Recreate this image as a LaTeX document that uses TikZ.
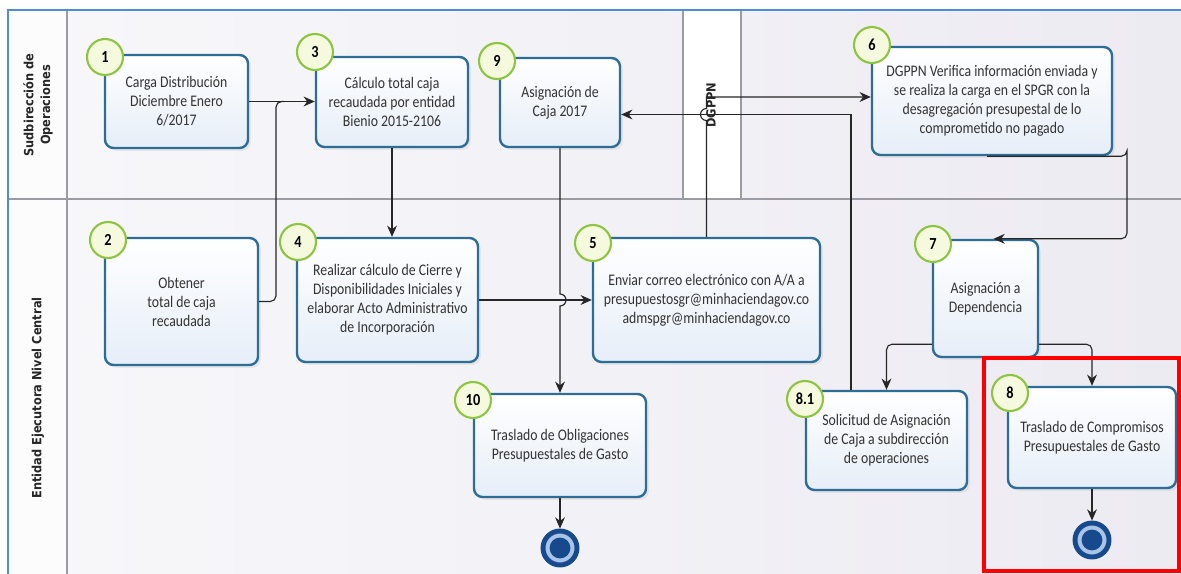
\documentclass[tikz,border=0pt]{standalone}
\usepackage{fontspec}
\setmainfont{Carlito}[FakeStretch=0.85]
\newfontfamily\lanefont{DejaVu Sans}[FakeStretch=0.9]
\usetikzlibrary{arrows.meta, shadows}

\definecolor{taskline}{HTML}{2E6E96}
\definecolor{taskfill}{HTML}{E6EEF8}
\definecolor{numline}{HTML}{8DC440}
\definecolor{numfill}{HTML}{F5FADF}
\definecolor{laneline}{HTML}{9B9BA3}
\definecolor{poolline}{HTML}{4F8BD6}
\definecolor{lanefillA}{HTML}{F7F7FA}
\definecolor{lanefillB}{HTML}{EDEBF2}
\definecolor{endblue}{HTML}{17498D}
\definecolor{endring}{HTML}{A8C4E6}

\tikzset{
  task/.style={draw=taskline, line width=1.7pt, rounded corners=6pt, top color=white, bottom color=taskfill,
    align=center, inner sep=2pt, text=black!80, font=\fontsize{11.5}{13.5}\selectfont,
    drop shadow={opacity=0.12, shadow xshift=2pt, shadow yshift=-2pt}},
  num/.style={circle, draw=numline, line width=1.5pt, fill=numfill, minimum size=0.9cm, inner sep=0pt,
    font=\bfseries\fontsize{12}{12}\selectfont},
  endev/.style={circle, draw=endblue, line width=3.5pt, fill=endring, minimum size=0.85cm, inner sep=0pt,
    path picture={\fill[endblue] (path picture bounding box.center) circle (0.26);}},
  lanelbl/.style={rotate=90, align=center, font=\lanefont\bfseries\fontsize{9}{12}\selectfont, text=black!85},
  link/.style={draw=black!85, line width=0.8pt},
  flow/.style={link, -{Stealth[length=8pt, width=7pt]}},
}

\begin{document}
\begin{tikzpicture}
\useasboundingbox (0,0) rectangle (29.525,-14.35);

% pool y carriles
\shade[left color=lanefillA, right color=lanefillB] (1.675,-0.25) rectangle (29.525,-14.35);
\fill[black!1] (0.2,-0.25) rectangle (1.675,-14.35);
\fill[white] (17.075,-0.25) rectangle (18.525,-4.975);
\draw[laneline, line width=1pt] (1.675,-0.25) -- (1.675,-14.35);
\draw[laneline, line width=1pt] (0.2,-4.975) -- (29.525,-4.975);
\draw[laneline, line width=0.8pt] (17.075,-0.25) -- (17.075,-4.975);
\draw[laneline, line width=0.8pt] (18.525,-0.25) -- (18.525,-4.975);
\draw[poolline, line width=1.5pt] (0.2,-14.35) -- (0.2,-0.25) -- (29.525,-0.25);

\node[lanelbl] (l1) at (0.95,-2.625) {Sudbirección de\\Operaciones};
\node[lanelbl] (l2) at (0.95,-9.95) {Entidad Ejecutora Nivel Central};
\node[lanelbl] (l3) at (17.775,-2.625) {DGPPN};

% tareas
\node[task, minimum width=3.575cm, minimum height=2.325cm] (b1) at (4.4125,-2.5375) {Carga Distribución\\Diciembre Enero\\6/2017};
\node[task, minimum width=3.8cm, minimum height=2.25cm] (b3) at (9.8,-2.55) {Cálculo total caja\\recaudada por entidad\\Bienio 2015-2106};
\node[task, minimum width=3cm, minimum height=2.225cm] (b9) at (14,-2.5625) {Asignación de\\Caja 2017};
\node[task, minimum width=6cm, minimum height=2.7cm] (b6) at (24.8,-2.525) {DGPPN Verifica información enviada y\\se realiza la carga en el SPGR con la\\desagregación presupestal de lo\\comprometido no pagado};
\node[task, minimum width=3.825cm, minimum height=3.175cm] (b2) at (4.5375,-7.5375) {Obtener\\total de caja\\recaudada};
\node[task, minimum width=4.525cm, minimum height=3.1cm] (b4) at (9.6875,-7.5) {Realizar cálculo de Cierre y\\Disponibilidades Iniciales y\\elaborar Acto Administrativo\\de Incorporación};
\node[task, minimum width=5.675cm, minimum height=3.1cm] (b5) at (17.6625,-7.5) {Enviar correo electrónico con A/A a\\presupuestosgr@minhaciendagov.co\\admspgr@minhaciendagov.co};
\node[task, minimum width=2.625cm, minimum height=2.925cm] (b7) at (24.6375,-7.4625) {Asignación a\\Dependencia};
\node[task, minimum width=4.3cm, minimum height=2.575cm] (b10) at (14,-11.1375) {Traslado de Obligaciones\\Presupuestales de Gasto};
\node[task, minimum width=4.025cm, minimum height=2.475cm] (b81) at (22.1625,-11.0125) {Solicitud de Asignación\\de Caja a subdirección\\de operaciones};
\node[task, minimum width=4.2cm, minimum height=2.525cm] (b8) at (27.3,-10.9375) {Traslado de Compromisos\\Presupuestales de Gasto};

\node[endev] (e10) at (14,-13.7) {};
\node[endev] (e8) at (27.3,-13.5) {};

% conectores
\coordinate (j2) at (6.9,-2.5375);
\coordinate (x9) at (b9.south |- b4.east);
\coordinate (k9) at ([yshift=-0.3cm]b9.east);
\coordinate (r6) at (28.175,-3.9);
\draw[flow] (b1.east) -- (b1.east -| b3.west);
\draw[link, rounded corners=4pt] (b2.east) -| (j2) -- ([xshift=6pt]j2);
\draw[flow] (b3.south) -- (b3.south |- b4.north);
\draw[flow] (b4.east) -- (b5.west);
\draw[flow] (b9.south) -- ([yshift=0.15cm]x9) arc (90:-90:0.15) -- (b10.north);
\draw[flow] (b10.south) -- (e10.north);
\draw[flow] ([xshift=-0.8875cm]b81.north) |- (k9);
\draw[flow] (b5.north) -- ([yshift=-0.15cm]b5.north |- k9) arc (-90:-270:0.15) |- ([yshift=0.1cm]b6.west);
\draw[flow, rounded corners=4pt] ([xshift=-0.125cm]b6.south) -| (r6) |- ([xshift=0.2cm]b7.north);
\draw[flow, rounded corners=4pt] ([yshift=0.35cm]b7.south west) -| (b81.north);
\draw[flow, rounded corners=4pt] ([yshift=0.35cm]b7.south east) -| (b8.north);
\draw[flow] (b8.south) -- (e8.north);

% numeros
\node[num] (n1) at (2.625,-1.425) {1};
\node[num] (n3) at (7.875,-1.3) {3};
\node[num] (n9) at (12.425,-1.525) {9};
\node[num] (n6) at (21.8,-1.125) {6};
\node[num] (n2) at (2.7,-6) {2};
\node[num] (n4) at (7.45,-6.05) {4};
\node[num] (n5) at (14.825,-6.075) {5};
\node[num] (n7) at (23.325,-6.1) {7};
\node[num] (n10) at (11.825,-10) {10};
\node[num] (n81) at (20.125,-9.975) {8.1};
\node[num] (n8) at (25.25,-9.825) {8};

\draw[red, line width=2.5pt] (24.6,-8.95) rectangle (29.475,-14.275);
\end{tikzpicture}
\end{document}
